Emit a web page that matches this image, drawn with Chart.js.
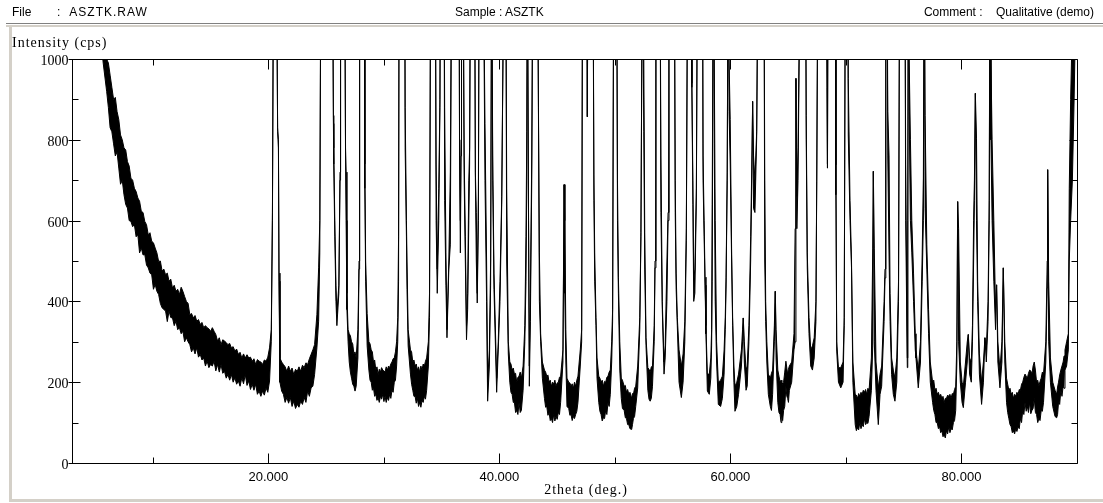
<!DOCTYPE html>
<html>
<head>
<meta charset="utf-8">
<title>ASZTK</title>
<script src="https://cdn.jsdelivr.net/npm/chart.js@4.4.1/dist/chart.umd.min.js"></script>
<style>
  html, body { margin: 0; padding: 0; background: #fff; }
  #wrap { position: relative; width: 1103px; height: 503px; overflow: hidden; }
  #xrdChart { position: absolute; left: 0; top: 0; }
  .hdr {
    position: absolute; top: 5px; white-space: pre; line-height: 16px;
    font: 12px "Liberation Sans", Arial, sans-serif; color: #000;
  }
</style>
</head>
<body>
<div id="wrap">
  <canvas id="xrdChart" width="1103" height="503"></canvas>
  <span class="hdr" style="left:12px">File</span>
  <span class="hdr" style="left:57px; letter-spacing:1px">:  ASZTK.RAW</span>
  <span class="hdr" style="left:455px">Sample : ASZTK</span>
  <span class="hdr" style="right:9px">Comment :    Qualitative (demo)</span>
</div>
<script>
// ======== Data (2theta in deg, counts in cps) ========
// countsLow / countsHigh = bottom and top of the noise band at each angle,
// one source line per stretch of the scan so the three lists stay aligned
const twoTheta = [
  3.0, 5.4, 5.7,
  6.0, 6.15, 6.3, 6.45, 6.6, 6.75, 6.9, 7.05, 7.2, 7.35,
  7.5, 7.65, 7.8, 7.95, 8.1, 8.25, 8.4, 8.55, 8.7, 8.85,
  9.0, 9.15, 9.3, 9.45, 9.6, 9.75, 9.9, 10.05, 10.2, 10.35,
  10.5, 10.65, 10.8, 10.95, 11.1, 11.25, 11.4, 11.55, 11.7, 11.85,
  12.0, 12.15, 12.3, 12.45, 12.6, 12.75, 12.9, 13.05, 13.2, 13.35,
  13.5, 13.65, 13.8, 13.95, 14.1, 14.25, 14.4, 14.55, 14.7, 14.85,
  15.0, 15.15, 15.3, 15.45, 15.6, 15.75, 15.9, 16.05, 16.2, 16.35,
  16.5, 16.65, 16.8, 16.95, 17.1, 17.25, 17.4, 17.55, 17.7, 17.85,
  18.0, 18.15, 18.3, 18.45, 18.6, 18.75, 18.9, 19.05, 19.2, 19.35,
  19.5, 19.65, 19.8, 19.95, 20.1,
  20.25, 20.35, 20.45, 20.7, 20.8, 20.87, 20.92,
  21.0, 21.15, 21.3, 21.45, 21.6, 21.75, 21.9, 22.05, 22.2, 22.35, 22.5, 22.65, 22.8, 22.95, 23.1, 23.25, 23.4, 23.55, 23.7, 23.85, 24.0,
  24.2, 24.35, 24.45, 24.55, 25.55, 25.63, 25.66, 25.75, 25.85, 25.93, 26.1, 26.2, 26.25, 26.6, 26.68, 26.73, 26.8, 26.9,
  27.0, 27.1, 27.2, 27.3, 27.4, 27.5, 27.6, 27.75,
  27.85, 27.9, 28.3, 28.35, 28.42, 28.55,
  28.7, 28.8, 28.9, 29.0, 29.1, 29.2, 29.3, 29.4, 29.5, 29.6, 29.7, 29.8, 29.9, 30.0, 30.1, 30.2, 30.3, 30.4, 30.5, 30.6, 30.7, 30.8, 30.9, 31.0, 31.1,
  31.2, 31.27, 31.32, 31.8, 31.84, 31.95, 32.0, 32.1,
  32.3, 32.4, 32.5, 32.6, 32.7, 32.8, 32.9, 33.0, 33.1, 33.2, 33.3, 33.4, 33.5, 33.6, 33.7, 33.85,
  33.95, 34.05, 34.45, 34.52, 34.62, 34.75, 34.85, 34.9, 35.2, 35.26,
  35.37, 35.46, 35.62, 35.75, 35.87, 36.5, 36.55, 36.62, 36.68, 36.72,
  36.85, 36.95, 37.05, 37.15, 37.25, 37.35, 37.42, 37.5, 37.85, 37.92,
  38.0, 38.08, 38.18, 38.25, 38.6, 38.75, 38.89, 38.98, 39.13, 39.24,
  39.33, 39.42, 39.53, 39.76, 39.9, 40.05, 40.2, 40.4, 40.55, 40.63, 40.77,
  40.9, 41.0, 41.1, 41.2, 41.3, 41.4, 41.5, 41.6, 41.7, 41.8, 41.9, 42.05,
  42.2, 42.3, 42.37, 42.42, 42.52, 42.59, 42.68, 42.8, 42.9, 43.3, 43.38, 43.46, 43.57, 43.72,
  43.9, 44.0, 44.1, 44.2, 44.3, 44.4, 44.5, 44.6, 44.7, 44.8, 44.9, 45.0, 45.1, 45.2, 45.3,
  45.5, 45.6, 45.66, 45.75, 45.85,
  46.0, 46.1, 46.2, 46.3, 46.4, 46.5, 46.6, 46.7, 46.8,
  47.0, 47.12, 47.2, 47.55, 47.61, 47.67, 48.1, 48.18, 48.25, 48.36, 48.45,
  48.6, 48.7, 48.8, 48.9, 49.0, 49.1, 49.2, 49.3, 49.4, 49.5, 49.6,
  49.72, 49.8, 49.9, 50.15, 50.22, 50.3, 50.42,
  50.55, 50.65, 50.8, 50.9, 51.0, 51.1, 51.2, 51.3, 51.45, 51.52, 51.6, 51.7, 51.8,
  51.97, 52.15, 52.25, 52.38, 52.5, 52.58, 52.69,
  52.85, 52.95, 53.05, 53.15, 53.25,
  53.4, 53.47, 53.55, 53.9, 53.98, 54.1, 54.25, 54.35, 54.5, 54.6,
  54.68, 55.14, 55.22, 55.3, 55.4, 55.55, 55.75, 55.9, 56.05, 56.18,
  56.3, 56.6, 56.66, 56.75, 56.82, 56.92, 57.05, 57.15, 57.58, 57.63,
  57.72, 57.8, 57.88, 58.0, 58.17, 58.3, 58.37, 58.42, 58.52, 58.6,
  58.68, 58.8, 58.95, 59.15, 59.3, 59.45, 59.55, 59.62, 59.72, 59.8,
  59.88, 59.98, 60.1, 60.19, 60.3, 60.39, 60.55, 60.7, 60.95, 61.05,
  61.11, 61.2, 61.35, 61.45, 61.6, 61.75, 61.85, 61.92, 62.0, 62.12,
  62.27, 62.4, 62.9, 62.97, 63.05, 63.15, 63.28,
  63.45, 63.55, 63.65, 63.8, 63.88, 63.95, 64.1, 64.2, 64.3, 64.38, 64.45, 64.52, 64.6, 64.7, 64.8, 64.88, 64.95, 65.02, 65.1,
  65.3, 65.5, 65.6, 65.67, 65.75, 65.85, 66.05, 66.5, 66.56, 66.65,
  66.8, 66.95, 67.1, 67.25, 67.4, 67.47, 67.58, 68.3, 68.36, 68.4,
  68.45, 69.08, 69.13, 69.2, 69.35, 69.55, 69.75, 69.85, 69.95, 70.15,
  70.2, 70.35, 70.48, 70.6,
  70.8, 70.9, 71.0, 71.1, 71.2, 71.3, 71.4, 71.5, 71.6, 71.7, 71.8, 71.9, 72.0,
  72.2, 72.32, 72.37, 72.45, 72.6, 72.8, 72.95, 73.09, 73.3, 73.38,
  73.45, 73.55, 73.62, 73.73, 73.82, 73.95, 74.1, 74.24, 74.4, 74.55,
  74.65, 75.1, 75.17, 75.31, 75.35, 75.4, 75.47, 75.58, 75.7, 75.85,
  76.0, 76.06, 76.26, 76.45, 76.6, 76.7, 76.78, 76.85, 77.0, 77.15,
  77.3,
  77.5, 77.6, 77.7, 77.8, 77.9, 78.0, 78.1, 78.2, 78.3, 78.4, 78.5, 78.6, 78.7, 78.8, 78.9, 79.0, 79.1, 79.2, 79.3, 79.4, 79.5,
  79.6, 79.67, 79.75, 79.9, 80.05, 80.16, 80.35, 80.5, 80.59, 80.7,
  80.85, 80.95, 81.05, 81.12, 81.2, 81.3, 81.4, 81.55, 81.74, 81.9,
  82.03, 82.15, 82.3, 82.4, 82.47, 82.55, 82.65, 82.8, 82.95, 83.04,
  83.15, 83.33, 83.5, 83.62, 83.75, 83.9,
  84.0, 84.1, 84.2, 84.3, 84.4, 84.5, 84.6, 84.7, 84.8, 84.9,
  85.0, 85.1, 85.2, 85.3, 85.4, 85.5, 85.6, 85.7, 85.8, 85.9,
  86.0, 86.1, 86.2, 86.3, 86.4, 86.5, 86.6, 86.7, 86.8, 86.9,
  87.0, 87.1,
  87.3, 87.42, 87.46, 87.55, 87.7, 87.9, 88.1, 88.24, 88.32, 88.4, 88.5, 88.6,
  88.7, 88.8, 88.88, 88.96, 89.1, 89.25, 89.33, 89.45, 89.6, 89.75, 90.0,
];

const countsLow = [
  2600, 1080, 990,
  920, 880, 830, 820, 790, 760, 770, 730, 690, 700,
  664, 640, 631, 600, 598, 585, 590, 560, 565, 520,
  532, 515, 516, 490, 483, 470, 466, 430, 442, 425,
  417, 395, 384, 380, 376, 350, 376, 360, 359, 340,
  351, 330, 335, 320, 326, 300, 310, 300, 293, 275,
  285, 270, 285, 262, 269, 255, 260, 240, 252, 236,
  244, 240, 252, 228, 244, 225, 244, 222, 227, 210,
  219, 205, 219, 200, 211, 195, 203, 190, 211, 196,
  219, 192, 203, 182, 195, 180, 195, 170, 178, 165,
  178, 168, 186, 175, 203,
  300, 600, 1300, 1300, 820, 780, 450,
  200, 178, 170, 150, 162, 148, 162, 140, 153, 135, 145, 138, 153, 145, 162, 150, 178, 165, 186, 190, 219,
  285, 351, 520, 1300, 1300, 840, 740, 560, 400, 340, 420, 700, 1300, 1300, 760, 600, 380, 300,
  250, 225, 210, 195, 190, 178, 190, 260,
  480, 1300, 1300, 680, 450, 290,
  230, 205, 200, 180, 185, 165, 170, 155, 162, 150, 165, 158, 170, 152, 165, 150, 162, 155, 170, 160, 180, 175, 200, 205, 240,
  300, 450, 1300, 1300, 780, 560, 430, 290,
  220, 195, 180, 165, 165, 148, 160, 140, 150, 138, 155, 150, 165, 158, 180, 240,
  360, 1300, 1300, 600, 420, 600, 880, 1300, 1300, 650,
  440, 310, 480, 540, 1300, 1300, 760, 520, 760, 1300,
  1300, 700, 500, 305, 380, 600, 740, 1300, 1300, 700,
  500, 396, 600, 1300, 1300, 700, 400, 153, 240, 440,
  1300, 700, 430, 175, 280, 400, 640, 1300, 1300, 500, 270,
  200, 175, 170, 150, 150, 125, 130, 120, 150, 125, 130, 180,
  300, 450, 700, 1300, 600, 190, 350, 700, 1300, 1300, 860, 400, 300, 210,
  160, 138, 140, 118, 125, 105, 110, 100, 120, 104, 115, 108, 125, 120, 150,
  250, 689, 420, 250, 140,
  135, 118, 120, 105, 115, 110, 120, 128, 150,
  240, 300, 1300, 1300, 857, 1300, 1300, 650, 450, 340, 210,
  150, 128, 120, 104, 112, 110, 130, 120, 150, 140, 170,
  250, 351, 1300, 1300, 600, 420, 230,
  160, 135, 130, 112, 110, 95, 95, 85, 83, 95, 110, 115, 140,
  186, 330, 560, 1300, 820, 480, 290,
  180, 158, 153, 160, 190,
  300, 483, 1300, 1300, 620, 380, 220, 260, 400, 600,
  1300, 1300, 620, 430, 340, 200, 162, 200, 300, 550,
  1300, 1300, 930, 640, 400, 420, 656, 1300, 1300, 700,
  560, 440, 320, 178, 170, 210, 290, 450, 1300, 790,
  400, 250, 145, 140, 160, 220, 330, 433, 700, 1300,
  870, 740, 500, 340, 200, 128, 140, 170, 240, 300,
  359, 250, 180, 190, 300, 500, 700, 895, 630, 620,
  804, 1300, 1300, 500, 350, 250, 170,
  140, 130, 170, 300, 425, 260, 150, 125, 120, 100, 116, 105, 130, 140, 190, 165, 160, 150, 180,
  200, 280, 300, 952, 580, 700, 1300, 1300, 800, 483,
  320, 240, 230, 260, 350, 697, 1300, 1300, 930, 730,
  1300, 1300, 664, 277, 200, 186, 200, 340, 1300, 1300,
  812, 600, 483, 200,
  95, 80, 87, 82, 100, 85, 95, 90, 110, 95, 100, 98, 115,
  180, 290, 722, 300, 180, 95, 170, 190, 350, 458,
  1300, 1300, 760, 510, 350, 219, 170, 153, 200, 400,
  1300, 1300, 600, 236, 500, 1300, 870, 600, 520, 400,
  280, 260, 186, 250, 450, 600, 1300, 630, 480, 320,
  200,
  150, 130, 120, 100, 100, 85, 90, 75, 80, 65, 70, 62, 80, 72, 90, 75, 85, 82, 100, 105, 130,
  250, 647, 300, 200, 150, 137, 200, 250, 318, 220,
  200, 300, 500, 650, 915, 600, 400, 220, 145, 200,
  310, 250, 350, 600, 1300, 800, 600, 450, 330, 441,
  250, 186, 250, 483, 250, 150,
  125, 110, 95, 90, 75, 79, 72, 85, 78, 90,
  85, 110, 100, 130, 120, 150, 128, 140, 125, 150,
  122, 130, 135, 160, 125, 120, 100, 110, 105, 130,
  128, 150,
  250, 433, 726, 300, 200, 140, 115, 112, 120, 150, 145, 180,
  165, 190, 185, 230, 240, 280, 500, 600, 700, 900, 1300,
];

const countsHigh = [
  2700, 1200, 1100,
  1000, 990, 960, 930, 900, 905, 870, 850, 812, 800,
  780, 775, 746, 735, 705, 700, 680, 672, 656, 648,
  623, 620, 598, 590, 565, 570, 549, 545, 532, 520,
  499, 500, 475, 480, 466, 470, 450, 455, 433, 440,
  425, 430, 417, 435, 425, 412, 400, 395, 367, 370,
  359, 365, 351, 355, 343, 348, 335, 340, 335, 332,
  326, 335, 326, 318, 302, 310, 293, 305, 302, 298,
  293, 296, 285, 288, 277, 282, 269, 274, 260, 270,
  260, 268, 260, 262, 252, 258, 244, 256, 252, 250,
  244, 255, 252, 262, 285,
  330, 620, 1300, 1300, 830, 800, 470,
  260, 250, 244, 238, 227, 240, 227, 235, 219, 232, 227, 238, 227, 242, 236, 248, 244, 258, 269, 280, 293,
  367, 483, 600, 1300, 1300, 860, 780, 600, 440, 370, 440, 720, 1300, 1300, 780, 720, 420, 330,
  320, 315, 300, 295, 270, 275, 260, 330,
  500, 1300, 1300, 740, 500, 370,
  300, 295, 280, 275, 250, 255, 230, 238, 219, 232, 225, 236, 230, 228, 225, 238, 230, 240, 236, 245, 250, 258, 260, 275, 300,
  360, 560, 1300, 1300, 880, 600, 500, 330,
  280, 275, 250, 255, 240, 245, 230, 238, 225, 240, 230, 245, 240, 252, 260, 300,
  420, 1300, 1300, 740, 480, 680, 900, 1300, 1300, 880,
  520, 330, 500, 720, 1300, 1300, 800, 600, 800, 1300,
  1300, 760, 560, 340, 420, 700, 780, 1300, 1300, 720,
  620, 420, 660, 1300, 1300, 840, 500, 200, 280, 500,
  1300, 760, 470, 210, 300, 450, 660, 1300, 1300, 680, 300,
  250, 245, 230, 235, 220, 222, 200, 212, 215, 225, 210, 240,
  340, 560, 820, 1300, 620, 240, 420, 760, 1300, 1300, 880, 520, 320, 250,
  230, 225, 215, 218, 200, 205, 190, 200, 195, 205, 190, 198, 200, 212, 215,
  280, 689, 600, 330, 210,
  200, 198, 190, 196, 185, 200, 190, 205, 215,
  280, 330, 1300, 1300, 857, 1300, 1300, 713, 520, 360, 260,
  215, 210, 200, 205, 190, 202, 200, 212, 215, 225, 230,
  300, 380, 1300, 1300, 700, 460, 300,
  210, 205, 190, 192, 175, 182, 170, 175, 160, 172, 170, 185, 190,
  240, 360, 570, 1300, 1000, 570, 310,
  236, 232, 225, 238, 240,
  340, 500, 1300, 1300, 760, 400, 250, 290, 500, 620,
  1300, 1300, 700, 470, 360, 280, 240, 270, 351, 580,
  1300, 1300, 940, 700, 450, 480, 680, 1300, 1300, 760,
  600, 460, 340, 220, 220, 260, 330, 640, 1300, 1000,
  600, 300, 200, 205, 215, 280, 360, 460, 720, 1300,
  1000, 850, 530, 360, 240, 190, 200, 220, 280, 330,
  359, 300, 230, 240, 340, 560, 740, 895, 760, 700,
  820, 1300, 1300, 700, 400, 300, 220,
  210, 222, 230, 340, 425, 330, 230, 215, 200, 205, 190, 198, 200, 225, 252, 235, 220, 232, 240,
  250, 320, 580, 952, 660, 780, 1300, 1300, 860, 520,
  360, 280, 290, 310, 400, 700, 1300, 1300, 1000, 740,
  1300, 1300, 738, 300, 236, 236, 250, 360, 1300, 1300,
  952, 650, 500, 250,
  170, 168, 160, 172, 165, 175, 170, 180, 175, 182, 170, 185, 180,
  260, 530, 722, 530, 250, 186, 220, 240, 400, 480,
  1300, 1300, 870, 760, 420, 260, 230, 210, 260, 450,
  1300, 1300, 740, 260, 600, 1300, 1000, 800, 600, 470,
  320, 280, 230, 300, 520, 705, 1300, 860, 540, 380,
  250,
  200, 205, 180, 185, 170, 175, 165, 170, 160, 165, 150, 160, 160, 168, 165, 170, 160, 172, 170, 182, 190,
  300, 647, 580, 250, 200, 190, 250, 300, 318, 260,
  250, 340, 600, 700, 915, 804, 450, 270, 200, 250,
  310, 280, 400, 650, 1300, 1000, 800, 600, 380, 441,
  300, 230, 300, 483, 300, 210,
  195, 180, 185, 170, 175, 160, 170, 165, 175, 170,
  182, 180, 195, 200, 212, 220, 215, 210, 222, 230,
  228, 220, 240, 250, 230, 200, 205, 190, 202, 210,
  225, 220,
  300, 500, 726, 450, 260, 200, 180, 170, 188, 200, 218, 230,
  240, 250, 265, 280, 300, 320, 680, 900, 1100, 1300, 1400,
];

// ======== Axis ticks and labels ========
const xTickValues = [20, 40, 60, 80];
const xTickLabels = ["20.000", "40.000", "60.000", "80.000"];
const xMinorValues = [10, 30, 50, 70];
const yTickValues = [0, 200, 400, 600, 800, 1000];
const yMinorValues = [100, 300, 500, 700, 900];

document.addEventListener("DOMContentLoaded", () => {
  const ctxEl = document.getElementById("xrdChart");

  const lowPoints = twoTheta.map((t, i) => ({ x: t, y: countsLow[i] }));
  const highPoints = twoTheta.map((t, i) => ({ x: t, y: countsHigh[i] }));

  // ======== Window background, header rule and panel border ========
  const panelPlugin = {
    id: "panelPlugin",
    beforeDraw(chart) {
      const { ctx, width, height } = chart;
      ctx.save();
      ctx.fillStyle = "#ffffff";
      ctx.fillRect(0, 0, width, height);
      ctx.fillStyle = "#808080";
      ctx.fillRect(6, 23, width - 6, 1);
      ctx.fillStyle = "#d4d0c8";
      ctx.fillRect(6, 25, width - 6, 2);
      ctx.fillRect(9, 25, 3, 477);
      ctx.fillRect(9, 499, width - 9, 3);
      ctx.restore();
    },
  };

  // ======== Frame with inward ticks, labels and titles ========
  const framePlugin = {
    id: "framePlugin",
    afterDraw(chart) {
      const { ctx, chartArea: a, scales } = chart;
      const xs = scales.x;
      const ys = scales.y;
      const L = Math.round(a.left) + 0.5;
      const R = Math.round(a.right) + 0.5;
      const T = Math.round(a.top) + 0.5;
      const B = Math.round(a.bottom) + 0.5;

      ctx.save();
      ctx.strokeStyle = "#000";
      ctx.lineWidth = 1;
      ctx.beginPath();
      ctx.rect(L, T, R - L, B - T);

      const line = (x1, y1, x2, y2) => {
        ctx.moveTo(x1, y1);
        ctx.lineTo(x2, y2);
      };

      yTickValues.forEach((v) => {
        const py = Math.round(ys.getPixelForValue(v)) + 0.5;
        line(L - 4, py, L + 8, py);
        line(R - 8, py, R, py);
      });
      yMinorValues.forEach((v) => {
        const py = Math.round(ys.getPixelForValue(v)) + 0.5;
        line(L, py, L + 6, py);
        line(R - 6, py, R, py);
      });
      xTickValues.forEach((v) => {
        const px = Math.round(xs.getPixelForValue(v)) + 0.5;
        line(px, B, px, B - 10);
        line(px, T, px, T + 10);
      });
      xMinorValues.forEach((v) => {
        const px = Math.round(xs.getPixelForValue(v)) + 0.5;
        line(px, B, px, B - 6);
        line(px, T, px, T + 6);
      });
      ctx.stroke();

      // y labels
      ctx.fillStyle = "#000";
      ctx.font = '14px "Liberation Serif", "Times New Roman", serif';
      ctx.textAlign = "right";
      ctx.textBaseline = "alphabetic";
      yTickValues.forEach((v) => {
        const py = ys.getPixelForValue(v);
        ctx.fillText(String(v), L - 4, py + 6);
      });

      // x labels
      ctx.font = '13px "Liberation Sans", Arial, sans-serif';
      ctx.textAlign = "center";
      xTickValues.forEach((v, i) => {
        ctx.fillText(xTickLabels[i], xs.getPixelForValue(v), B + 17);
      });

      // titles
      ctx.font = '14px "Liberation Serif", "Times New Roman", serif';
      ctx.letterSpacing = "1px";
      ctx.textAlign = "center";
      ctx.fillText("2theta (deg.)", 586, 494);
      ctx.textAlign = "left";
      ctx.fillText("Intensity (cps)", 12, 47);
      ctx.restore();
    },
  };

  // ======== Gráfico: XRD scan ========
  new Chart(ctxEl, {
    type: "line",
    data: {
      datasets: [
        {
          label: "band low",
          data: lowPoints,
          borderColor: "#000",
          borderWidth: 1,
          pointRadius: 0,
          tension: 0,
          fill: false,
        },
        {
          label: "band high",
          data: highPoints,
          borderColor: "#000",
          backgroundColor: "#000",
          borderWidth: 1,
          pointRadius: 0,
          tension: 0,
          fill: "-1",
        },
      ],
    },
    options: {
      responsive: false,
      animation: false,
      events: [],
      layout: { padding: { left: 72, top: 59, right: 26, bottom: 40 } },
      scales: {
        x: { type: "linear", min: 3, max: 90, display: false },
        y: { type: "linear", min: 0, max: 1000, display: false },
      },
      plugins: {
        legend: { display: false },
        tooltip: { enabled: false },
      },
    },
    plugins: [panelPlugin, framePlugin],
  });
});
</script>
</body>
</html>
